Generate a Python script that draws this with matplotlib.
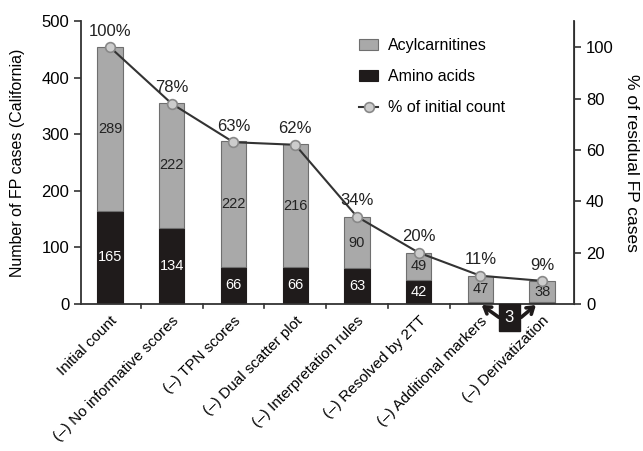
import matplotlib
matplotlib.use("Agg")
import matplotlib.pyplot as plt
import numpy as np

plt.rcParams['font.family'] = ['Liberation Sans', 'DejaVu Sans']

steps = ['Initial count', '(\u2013) No informative scores', '(\u2013) TPN scores',
         '(\u2013) Dual scatter plot', '(\u2013) Interpretation rules',
         '(\u2013) Resolved by 2TT', '(\u2013) Additional markers',
         '(\u2013) Derivatization']
amino = [165, 134, 66, 66, 63, 42, 3, 3]
acyl = [289, 222, 222, 216, 90, 49, 47, 38]
pct = [100, 78, 63, 62, 34, 20, 11, 9]
amino_shown = [True, True, True, True, True, True, False, False]

x = np.arange(len(steps))
total0 = amino[0] + acyl[0]

fig = plt.figure(figsize=(6.43, 4.51), dpi=100)
ax = fig.add_axes([0.126, 0.326, 0.767, 0.627])
ax2 = ax.twinx()

w = 0.41
ax.bar(x, amino, w, color='#1f1b1b', edgecolor='#1f1b1b', lw=0.8,
       label='Amino acids', zorder=2)
ax.bar(x, acyl, w, bottom=amino, color='#a9a9a9', edgecolor='#6f6f6f',
       lw=0.8, label='Acylcarnitines', zorder=2)

for i in range(len(x)):
    if amino_shown[i]:
        ax.text(x[i], amino[i] / 2, str(amino[i]), color='white',
                ha='center', va='center', fontsize=10.5)
    ax.text(x[i], amino[i] + acyl[i] / 2, str(acyl[i]), color='#222222',
            ha='center', va='center', fontsize=10.5)

ax.set_xlim(-0.47, 7.52)
ax.set_ylim(0, 500)
ax.set_yticks([0, 100, 200, 300, 400, 500])
ax.set_ylabel('Number of FP cases (California)', fontsize=11.5, labelpad=12)
ax.set_xticks(x)
ax.set_xticklabels(steps, rotation=45, ha='right', rotation_mode='anchor',
                   fontsize=11)
ax.tick_params(axis='x', length=0, pad=7)
# small tick marks between the bars
for b in x[:-1] + 0.5:
    if b == 6.5:
        continue
    ax.plot([b, b], [0, -7], color='#333333', lw=1.2, clip_on=False,
            zorder=1)
ax.tick_params(axis='y', labelsize=12, length=5, width=1.2, color='#333333')
ax.spines['top'].set_visible(False)
for s in ['left', 'bottom']:
    ax.spines[s].set_linewidth(1.3)
    ax.spines[s].set_color('#333333')

ax2.plot(x, pct, color='#333333', lw=1.5, marker='o', ms=7,
         mfc='#cccccc', mec='#888888', mew=1.2, label='% of initial count',
         zorder=3)
for i in range(len(x)):
    ax2.annotate(f'{pct[i]}%', (x[i], pct[i]), xytext=(0, 6),
                 textcoords='offset points', ha='center', va='bottom',
                 fontsize=12, color='#222222')
ax2.set_ylim(0, 500 / total0 * 100)
ax2.set_yticks([0, 20, 40, 60, 80, 100])
ax2.tick_params(axis='y', labelsize=12, length=5, width=1.2, color='#333333')
ax2.set_ylabel('% of residual FP cases', rotation=270, fontsize=12.5,
               labelpad=18)
ax2.spines['top'].set_visible(False)
ax2.spines['right'].set_linewidth(1.3)
ax2.spines['right'].set_color('#333333')
ax2.spines['left'].set_visible(False)
ax2.spines['bottom'].set_visible(False)
ax.set_zorder(1)
ax2.set_zorder(2)
ax2.patch.set_visible(False)

# boxed "3" with arrows to the two last bars
for tail, tip in [((6.3, -5.2), (6.02, -0.4)), ((6.66, -5.2), (6.9, -0.4))]:
    ax2.annotate('', xy=tip, xytext=tail,
                 arrowprops=dict(arrowstyle='->,head_length=0.45,head_width=0.3',
                                 color='#1f1b1b', lw=2.6,
                                 shrinkA=0, shrinkB=0),
                 annotation_clip=False, clip_on=False, zorder=4)
ax2.text(6.47, -5.3, '3', color='white', fontsize=12, ha='center',
         va='center',
         bbox=dict(boxstyle='square,pad=0.35', fc='#1f1b1b', ec='#1f1b1b'),
         zorder=5, clip_on=False)

h1, l1 = ax.get_legend_handles_labels()
h2, l2 = ax2.get_legend_handles_labels()
ax2.legend([h1[1], h1[0], h2[0]], [l1[1], l1[0], l2[0]],
           loc='upper left', bbox_to_anchor=(0.535, 0.99), frameon=False,
           fontsize=11.5, handlelength=1.2, labelspacing=1.0,
           handletextpad=0.6)

fig.savefig('out.png', dpi=100)
